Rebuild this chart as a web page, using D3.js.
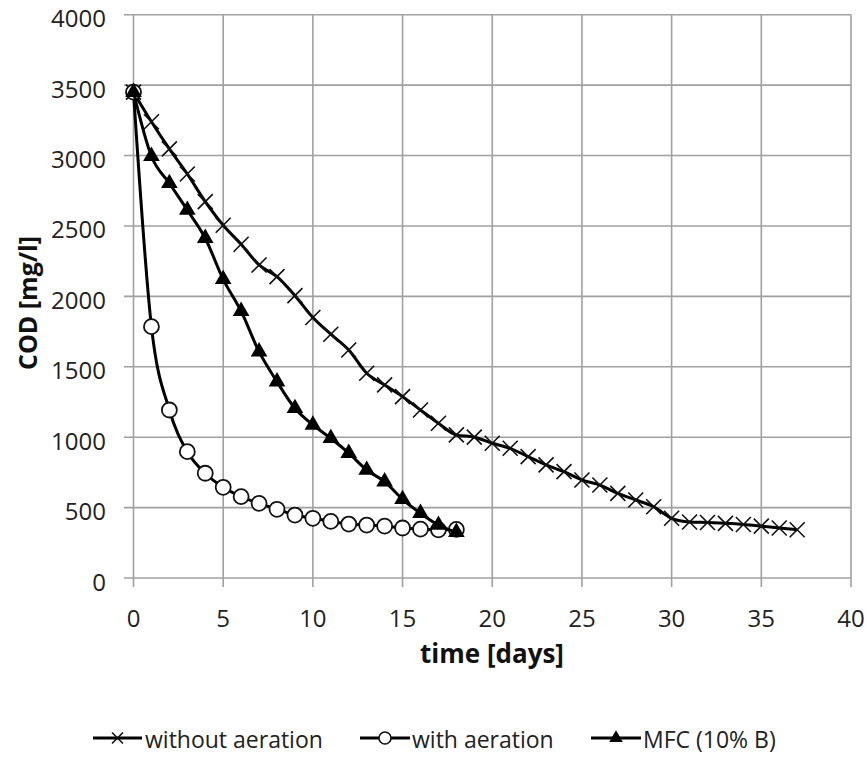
<!DOCTYPE html>
<html>
<head>
<meta charset="utf-8">
<script src="https://cdn.jsdelivr.net/npm/d3@7"></script>
<style>
  html, body { margin: 0; padding: 0; background: #fff; }
  svg { display: block; font-family: "Open Sans", sans-serif; }
</style>
</head>
<body>
<svg id="chart" width="867" height="758"></svg>
<script>
// ---- data ----
const daysWithout = d3.range(0, 38);
const withoutAeration = [3450, 3240, 3047, 2869, 2673, 2505, 2370, 2223, 2140, 2005,
  1850, 1731, 1619, 1454, 1371, 1288, 1193, 1099, 1016, 1000,
  957, 921, 862, 803, 755, 696, 660, 601, 554, 506,
  424, 398, 394, 388, 380, 368, 355, 343];
const daysWith = d3.range(0, 19);
const withAeration = [3450, 1785, 1193, 897, 744, 644, 578, 530, 488, 447,
  424, 402, 383, 376, 368, 355, 347, 342, 345];
const daysMFC = d3.range(0, 19);
const mfc = [3450, 2995, 2803, 2613, 2413, 2121, 1895, 1607, 1394, 1205,
  1087, 992, 886, 767, 684, 559, 460, 376, 325];
const xTicks = [0, 5, 10, 15, 20, 25, 30, 35, 40];
const yTicks = [0, 500, 1000, 1500, 2000, 2500, 3000, 3500, 4000];
const seriesNames = ["without aeration", "with aeration", "MFC (10% B)"];

// ---- layout ----
const svg = d3.select("#chart");
const x = d3.scaleLinear().domain([0, 40]).range([133.5, 851]);
const y = d3.scaleLinear().domain([0, 4000]).range([578, 14.7]);
const gridColor = "#a0a0a0";

// horizontal gridlines (with outside tick)
const gY = svg.append("g");
gY.selectAll("line").data(yTicks).join("line")
  .attr("x1", x(0) - 9.5).attr("x2", x(40))
  .attr("y1", d => y(d)).attr("y2", d => y(d))
  .attr("stroke", gridColor).attr("stroke-width", 1.6);
gY.selectAll("text").data(yTicks).join("text")
  .attr("x", 106).attr("y", d => y(d) + 12.5)
  .attr("text-anchor", "end")
  .attr("font-size", 24).attr("fill", "#222")
  .text(d => d);

// vertical gridlines
const gX = svg.append("g");
gX.selectAll("line").data(xTicks).join("line")
  .attr("x1", d => x(d)).attr("x2", d => x(d))
  .attr("y1", y(4000)).attr("y2", y(0) + 9)
  .attr("stroke", gridColor).attr("stroke-width", 1.6);
gX.selectAll("text").data(xTicks).join("text")
  .attr("x", d => x(d)).attr("y", 627)
  .attr("text-anchor", "middle")
  .attr("font-size", 24).attr("fill", "#222")
  .text(d => d);

// axis titles
svg.append("text")
  .attr("x", 492).attr("y", 663)
  .attr("text-anchor", "middle")
  .attr("font-size", 26).attr("font-weight", "bold").attr("fill", "#111")
  .text("time [days]");
svg.append("text")
  .attr("transform", "translate(37,303) rotate(-90)")
  .attr("text-anchor", "middle")
  .attr("font-size", 25).attr("font-weight", "bold").attr("fill", "#111")
  .text("COD [mg/l]");

// ---- series ----
const line = d3.line().curve(d3.curveMonotoneX);
function pts(days, vals) { return days.map((d, i) => [x(d), y(vals[i])]); }

const pWithout = pts(daysWithout, withoutAeration);
const pWith = pts(daysWith, withAeration);
const pMFC = pts(daysMFC, mfc);

const triSym = d3.symbol().type(d3.symbolTriangle);

function drawX(g, p, s) {
  g.selectAll(null).data(p).join("path")
    .attr("d", d => `M${d[0]-s},${d[1]-s}L${d[0]+s},${d[1]+s}M${d[0]-s},${d[1]+s}L${d[0]+s},${d[1]-s}`)
    .attr("stroke", "#111").attr("stroke-width", 1.6).attr("fill", "none");
}

// without aeration
const g1 = svg.append("g");
g1.append("path").attr("d", line(pWithout))
  .attr("fill", "none").attr("stroke", "#000").attr("stroke-width", 3);
drawX(g1, pWithout, 7.5);

// with aeration
const g2 = svg.append("g");
g2.append("path").attr("d", line(pWith))
  .attr("fill", "none").attr("stroke", "#000").attr("stroke-width", 3);
g2.selectAll("circle").data(pWith).join("circle")
  .attr("cx", d => d[0]).attr("cy", d => d[1]).attr("r", 7.5)
  .attr("fill", "#fff").attr("stroke", "#111").attr("stroke-width", 1.8);

// MFC
const g3 = svg.append("g");
g3.append("path").attr("d", line(pMFC))
  .attr("fill", "none").attr("stroke", "#000").attr("stroke-width", 3);
g3.selectAll(".tri").data(pMFC).join("path").attr("class", "tri")
  .attr("transform", d => `translate(${d[0]},${d[1]})`)
  .attr("d", triSym.size(120)())
  .attr("fill", "#000");

// ---- legend ----
const legendItems = [
  { name: seriesNames[0], x1: 93, x2: 142, tx: 145, kind: "x" },
  { name: seriesNames[1], x1: 360, x2: 410, tx: 412, kind: "o" },
  { name: seriesNames[2], x1: 591, x2: 641, tx: 643, kind: "t" }
];
const ly = 738;
const gL = svg.append("g");
legendItems.forEach(it => {
  gL.append("line").attr("x1", it.x1).attr("x2", it.x2).attr("y1", ly).attr("y2", ly)
    .attr("stroke", "#000").attr("stroke-width", 3);
  const cx = (it.x1 + it.x2) / 2;
  if (it.kind === "x") {
    const s = 5.5;
    gL.append("path").attr("d", `M${cx-s},${ly-s}L${cx+s},${ly+s}M${cx-s},${ly+s}L${cx+s},${ly-s}`)
      .attr("stroke", "#111").attr("stroke-width", 1.6);
  } else if (it.kind === "o") {
    gL.append("circle").attr("cx", cx).attr("cy", ly).attr("r", 6)
      .attr("fill", "#fff").attr("stroke", "#111").attr("stroke-width", 1.6);
  } else {
    gL.append("path").attr("transform", `translate(${cx},${ly})`)
      .attr("d", triSym.size(80)()).attr("fill", "#000");
  }
  gL.append("text").attr("x", it.tx).attr("y", ly + 10)
    .attr("font-size", 23).attr("fill", "#222").text(it.name);
});
</script>
</body>
</html>
